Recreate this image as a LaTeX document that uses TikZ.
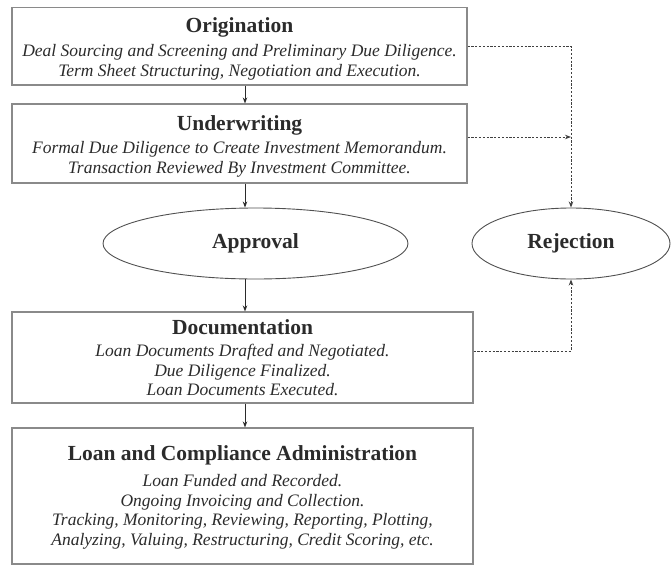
\documentclass[tikz,border=0pt]{standalone}
\usepackage{fontspec}
\setmainfont{Liberation Serif}
\usetikzlibrary{arrows.meta,shapes.geometric,calc}
\definecolor{boxline}{HTML}{8A8A8A}
\definecolor{ink}{HTML}{2B2B2B}
\definecolor{ellline}{HTML}{505050}
\newcommand{\ttlfont}{\fontsize{21.5}{24}\selectfont\upshape\bfseries}
\newcommand{\itlfont}{\fontsize{17.5}{19.5}\selectfont\itshape}
\begin{document}
\begin{tikzpicture}[x=1pt,y=-1pt,
  stagebox/.style={draw=boxline, line width=1.1pt, rectangle, inner sep=0pt, align=center, text=ink, font=\itlfont},
  oval/.style={draw=ellline, line width=0.9pt, ellipse, inner sep=0pt, text=ink, font=\ttlfont},
  flow/.style={draw=ink, line width=0.9pt, -{Stealth[length=6pt,width=4.5pt]}},
  reject/.style={draw=ink!90, line width=1pt, dash pattern=on 2.2pt off 1.6pt, -{Stealth[length=6pt,width=4.5pt]}}]
\useasboundingbox (0,0) rectangle (671,565);
\coordinate (spine) at (245,0);

\node[stagebox, minimum width=455pt, minimum height=77.5pt] (orig) at (239.5,46.25)
  {{\ttlfont\rule{0pt}{20pt}Origination}\\[4.5pt]
   Deal Sourcing and Screening and Preliminary Due Diligence.\\
   Term Sheet Structuring, Negotiation and Execution.};

\node[stagebox, minimum width=455pt, minimum height=79pt] (under) at (239.5,143.5)
  {{\ttlfont\rule{0pt}{20pt}Underwriting}\\[4pt]
   Formal Due Diligence to Create Investment Memorandum.\\
   Transaction Reviewed By Investment Committee.};

\node[oval, minimum width=305pt, minimum height=71pt] (appr) at (255.5,243.5) {Approval};
\node[oval, minimum width=198pt, minimum height=71pt] (rej) at (571,243.5) {Rejection};

\node[stagebox, minimum width=461pt, minimum height=91pt] (doc) at (242.5,357.5)
  {{\ttlfont Documentation}\\[3pt]
   Loan Documents Drafted and Negotiated.\\
   Due Diligence Finalized.\\
   Loan Documents Executed.};

\node[stagebox, minimum width=461pt, minimum height=136pt] (loan) at (242.5,496)
  {{\ttlfont\rule{0pt}{17pt}Loan and Compliance Administration}\\[7pt]
   Loan Funded and Recorded.\\
   Ongoing Invoicing and Collection.\\
   Tracking, Monitoring, Reviewing, Reporting, Plotting,\\
   Analyzing, Valuing, Restructuring, Credit Scoring, etc.};

\draw[flow] (orig.south -| spine) -- (under.north -| spine);
\draw[flow] (under.south -| spine) -- (appr.north -| spine);
\draw[flow] (appr.south -| spine) -- (doc.north -| spine);
\draw[flow] (doc.south -| spine) -- (loan.north -| spine);

\coordinate (uout) at ($(under.east)+(0,-6.5)$);
\coordinate (dout) at ($(doc.east)+(0,-6.5)$);
\draw[reject] (orig.east) -| (rej.north);
\draw[reject] (uout) -- (uout -| rej.north);
\draw[reject] (dout) -| (rej.south);
\end{tikzpicture}
\end{document}
